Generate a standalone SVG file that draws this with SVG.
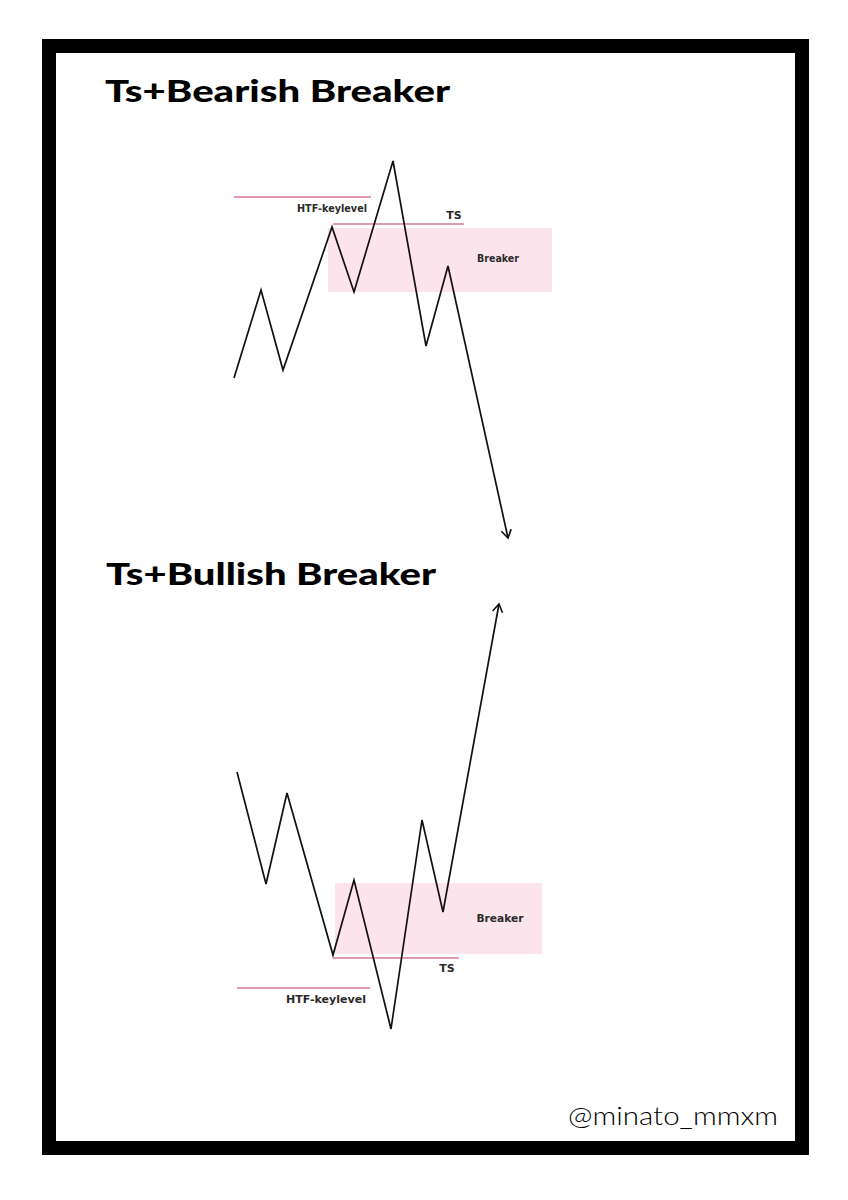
<svg xmlns="http://www.w3.org/2000/svg" width="848" height="1200" viewBox="0 0 848 1200">
<defs>
<style>
.title{font-family:"Lato","Liberation Sans",sans-serif;font-weight:900;font-size:31px;fill:#000}
.lbl{font-family:"DejaVu Sans","Liberation Sans",sans-serif;font-size:11px;font-weight:bold;fill:#2a2a2a}
.zone{fill:#fce4ec}
.lvl{stroke:#d9799a;stroke-width:1.5;fill:none}
.price{stroke:#111;stroke-width:1.7;fill:none;stroke-linejoin:miter}
</style>
<marker id="arr" viewBox="0 0 12 12" refX="10" refY="6" markerWidth="12" markerHeight="12" markerUnits="userSpaceOnUse" orient="auto">
<path d="M2,1 L10,6 L2,11" fill="none" stroke="#111" stroke-width="1.6"/>
</marker>
</defs>
<rect width="848" height="1200" fill="#fff"/>
<rect x="49" y="46" width="753" height="1102" fill="#fff" stroke="#000" stroke-width="14"/>
<text class="title" x="105" y="102" textLength="345" lengthAdjust="spacingAndGlyphs">Ts+Bearish Breaker</text>
<text class="title" x="106" y="585" textLength="330" lengthAdjust="spacingAndGlyphs">Ts+Bullish Breaker</text>
<g id="bearish-breaker">
<rect class="zone" x="328" y="228" width="224" height="64"/>
<text class="lbl" x="498" y="262" text-anchor="middle" textLength="42" lengthAdjust="spacingAndGlyphs">Breaker</text>
</g>
<g id="bearish-htf">
<line class="lvl" x1="234" y1="197" x2="371" y2="197"/>
<text class="lbl" x="332" y="212" text-anchor="middle" textLength="70" lengthAdjust="spacingAndGlyphs">HTF-keylevel</text>
</g>
<g id="bearish-ts">
<line class="lvl" x1="333" y1="224" x2="464" y2="224"/>
<text class="lbl" x="454" y="219" text-anchor="middle">TS</text>
</g>
<g id="bullish-breaker">
<rect class="zone" x="335" y="883" width="207" height="71"/>
<text class="lbl" x="500" y="922" text-anchor="middle" textLength="47" lengthAdjust="spacingAndGlyphs">Breaker</text>
</g>
<g id="bullish-ts">
<line class="lvl" x1="333" y1="958" x2="459" y2="958"/>
<text class="lbl" x="447" y="972" text-anchor="middle">TS</text>
</g>
<g id="bullish-htf">
<line class="lvl" x1="237" y1="988" x2="370" y2="988"/>
<text class="lbl" x="326" y="1003" text-anchor="middle" textLength="80" lengthAdjust="spacingAndGlyphs">HTF-keylevel</text>
</g>
<g id="connectors">
<polyline class="price" marker-end="url(#arr)" points="234,378 261,290 283,370 332,227 354,292 393,161 426,346 448,266 508,538"/>
<polyline class="price" marker-end="url(#arr)" points="237,772 266,884 287,793 333,955 354,880 391,1029 422,820 443,912 499,604"/>
</g>
<text x="568" y="1125" font-family="Lato,'Liberation Sans',sans-serif" font-weight="300" font-size="25" fill="#000" textLength="210" lengthAdjust="spacingAndGlyphs">@minato_mmxm</text>
</svg>
